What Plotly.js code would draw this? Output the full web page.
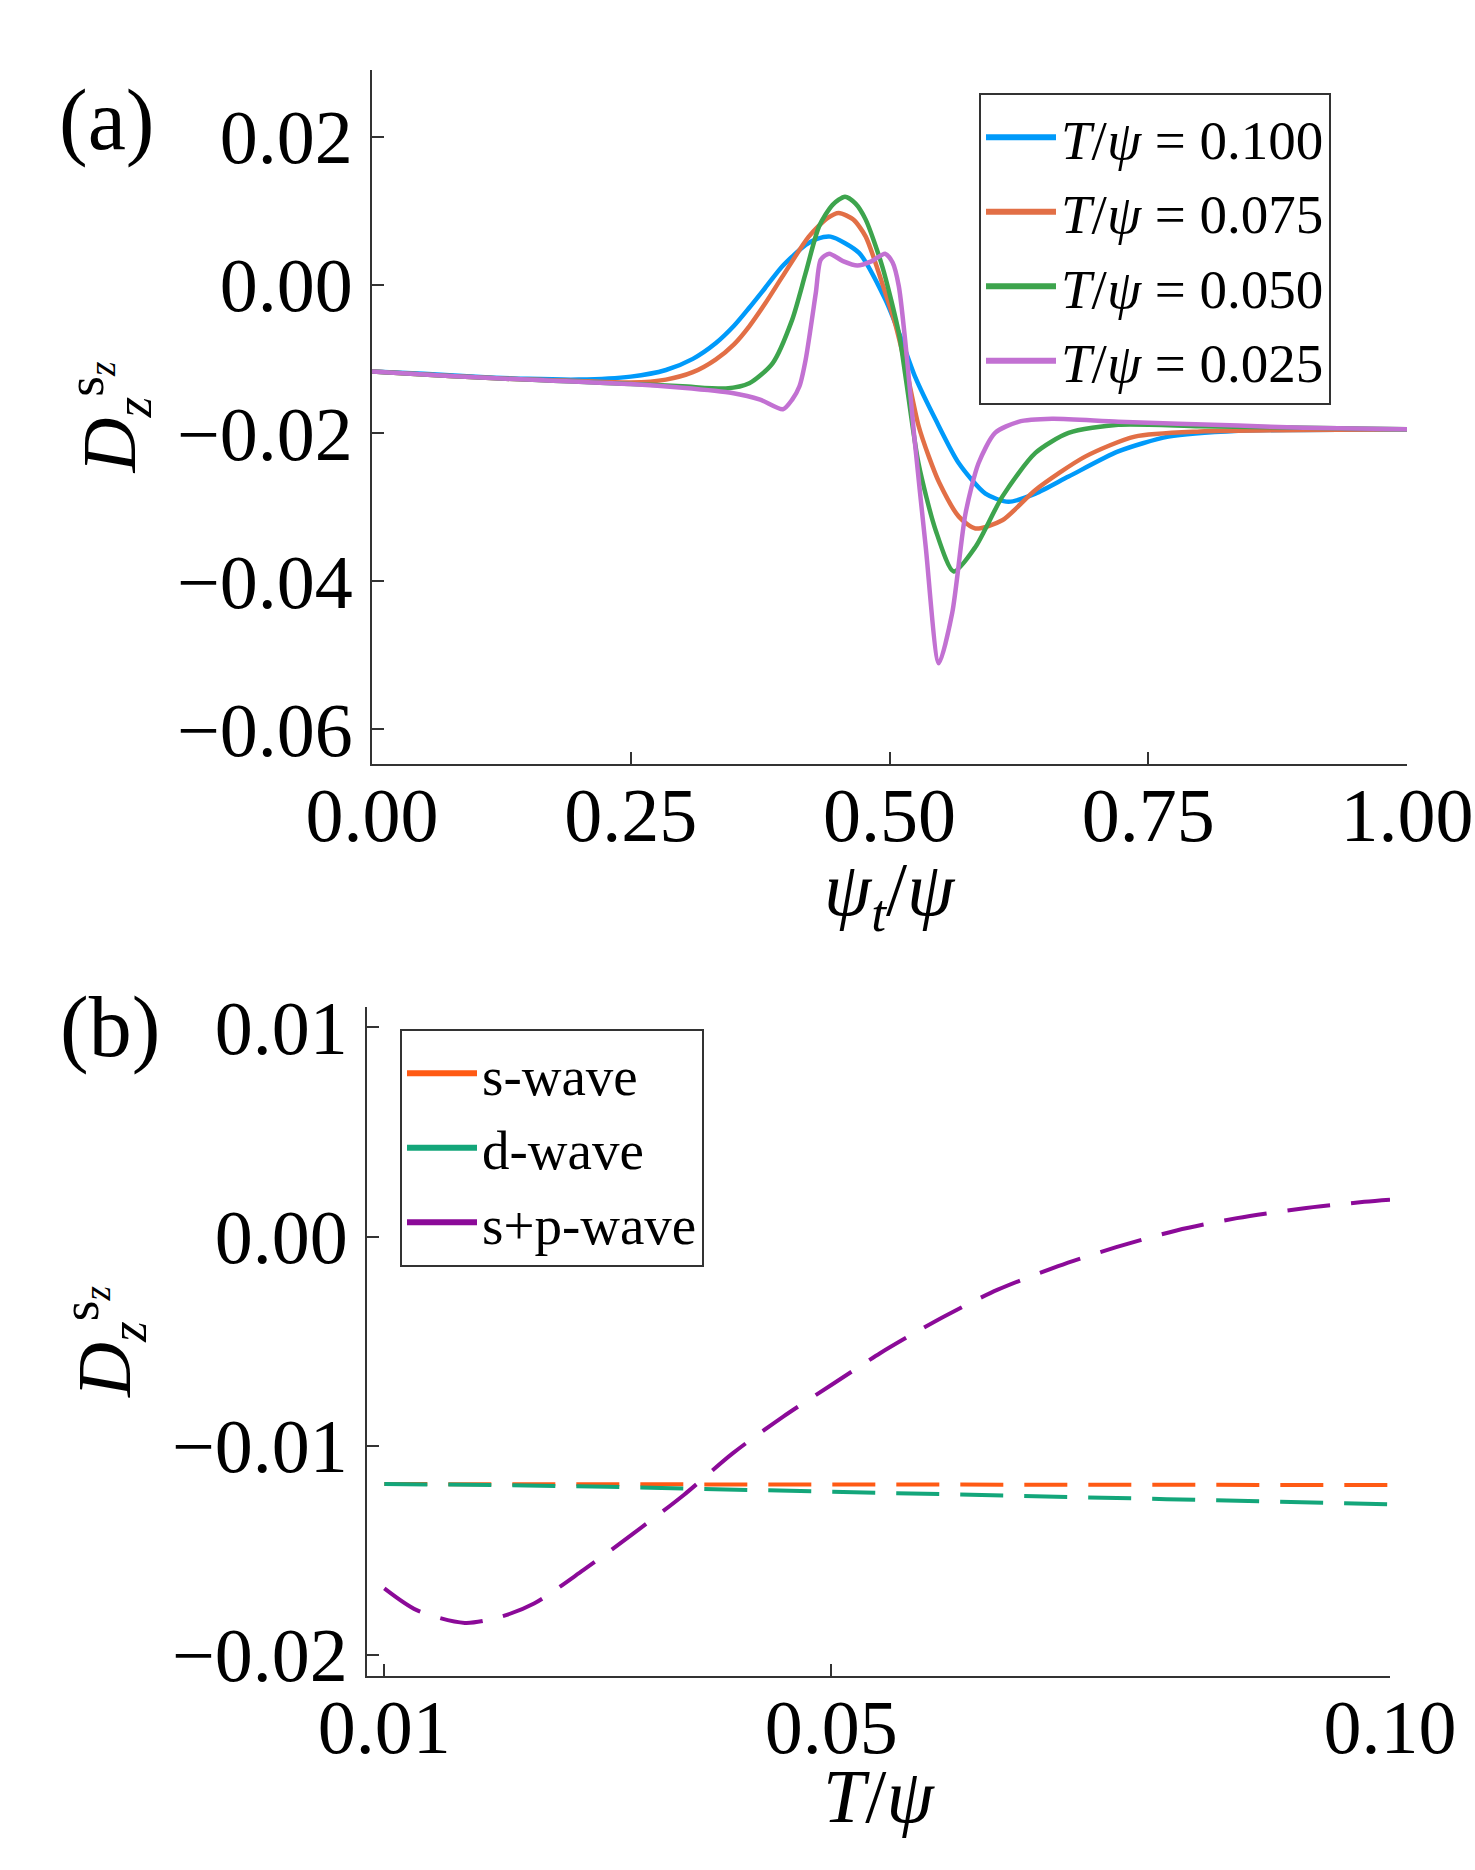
<!DOCTYPE html>
<html>
<head>
<meta charset="utf-8">
<script src="https://cdn.plot.ly/plotly-3.0.1.min.js"></script>
<style>
  body { margin: 0; background: #fff; }
  #chart { width: 1475px; height: 1870px; }
</style>
</head>
<body>
<div id="chart"></div>
<script>
'use strict';

// panel (a): D_z^{s_z} against psi_t/psi for four temperatures
const tLabels = ['0.100', '0.075', '0.050', '0.025'];

const xT100 = [0, 0.05, 0.10, 0.15, 0.20, 0.25, 0.284, 0.31, 0.332, 0.35, 0.3645, 0.38, 0.3965, 0.419, 0.43, 0.443, 0.4706, 0.496, 0.51, 0.525, 0.5445, 0.567, 0.5927, 0.615, 0.641, 0.673, 0.721, 0.7695, 0.837, 0.9, 1.0];
const yT100 = [-0.0117, -0.0120, -0.0124, -0.0127, -0.0128, -0.0124, -0.0115, -0.0100, -0.0079, -0.0055, -0.0031, -0.0004, 0.0025, 0.0054, 0.0062, 0.0065, 0.0043, -0.0020, -0.0068, -0.0125, -0.0182, -0.0241, -0.0282, -0.0293, -0.0282, -0.0259, -0.0225, -0.0205, -0.0197, -0.0196, -0.0195];

const xT075 = [0, 0.05, 0.10, 0.15, 0.20, 0.25, 0.284, 0.31, 0.332, 0.35, 0.3645, 0.38, 0.3965, 0.422, 0.44, 0.451, 0.465, 0.477, 0.496, 0.505, 0.5156, 0.528, 0.538, 0.548, 0.567, 0.583, 0.609, 0.641, 0.689, 0.737, 0.8, 0.9, 1.0];
const yT075 = [-0.0117, -0.0121, -0.0125, -0.0128, -0.0130, -0.0132, -0.0128, -0.0118, -0.0101, -0.0080, -0.0056, -0.0025, 0.0011, 0.0065, 0.0090, 0.0097, 0.0088, 0.0065, -0.0011, -0.0050, -0.0110, -0.0190, -0.0232, -0.0267, -0.0313, -0.0329, -0.0318, -0.0277, -0.0232, -0.0205, -0.0198, -0.0196, -0.0195];

const xT050 = [0, 0.05, 0.10, 0.15, 0.20, 0.25, 0.30, 0.342, 0.3645, 0.387, 0.406, 0.419, 0.432, 0.445, 0.457, 0.467, 0.477, 0.493, 0.509, 0.5156, 0.528, 0.5445, 0.562, 0.583, 0.609, 0.641, 0.673, 0.721, 0.8, 0.9, 1.0];
const yT050 = [-0.0117, -0.0121, -0.0125, -0.0128, -0.0131, -0.0134, -0.0137, -0.0140, -0.0133, -0.0106, -0.0047, 0.0016, 0.0079, 0.0108, 0.0119, 0.0110, 0.0088, 0.0025, -0.0065, -0.0125, -0.0241, -0.0331, -0.0387, -0.0354, -0.0286, -0.0227, -0.0200, -0.0189, -0.0191, -0.0193, -0.0195];

const xT025 = [0, 0.05, 0.10, 0.15, 0.20, 0.25, 0.30, 0.348, 0.375, 0.397, 0.406, 0.413, 0.419, 0.4288, 0.4336, 0.4417, 0.455, 0.469, 0.483, 0.4957, 0.503, 0.509, 0.517, 0.5236, 0.535, 0.5477, 0.5606, 0.5734, 0.586, 0.602, 0.6245, 0.657, 0.721, 0.837, 0.9, 1.0];
const yT025 = [-0.0117, -0.0121, -0.0125, -0.0128, -0.0131, -0.0134, -0.0139, -0.0146, -0.0155, -0.0168, -0.0155, -0.0137, -0.0101, -0.0011, 0.0034, 0.0042, 0.0032, 0.0026, 0.0032, 0.0042, 0.0030, -0.0002, -0.0101, -0.0200, -0.0354, -0.0511, -0.0443, -0.0309, -0.0241, -0.0200, -0.0185, -0.0181, -0.0185, -0.0190, -0.0193, -0.0195];

// panel (b): D_z^{s_z} against T/psi for three pairings
const tGrid = [0.01, 0.02, 0.03, 0.04, 0.05, 0.06, 0.07, 0.08, 0.09, 0.10];
const sWave = [-0.01184, -0.01185, -0.01186, -0.01186, -0.01187, -0.01187, -0.01188, -0.01188, -0.01188, -0.01188];
const dWave = [-0.01184, -0.01188, -0.01197, -0.01208, -0.01219, -0.01230, -0.01243, -0.01256, -0.01268, -0.01281];

const tSp = [0.010, 0.0129, 0.0172, 0.0204, 0.0234, 0.0278, 0.0323, 0.0368, 0.0412, 0.0457, 0.050, 0.0544, 0.0569, 0.0601, 0.0649, 0.0703, 0.0755, 0.0809, 0.0863, 0.0920, 0.0977, 0.100];
const spWave = [-0.01683, -0.01787, -0.01848, -0.01819, -0.01755, -0.01596, -0.01420, -0.01236, -0.01036, -0.00861, -0.0071, -0.00557, -0.00478, -0.00382, -0.00254, -0.00142, -0.00051, 0.00029, 0.00088, 0.00133, 0.00166, 0.00176];

const waveNames = ['s-wave', 'd-wave', 's+p-wave'];

// ticks
const xTicksA = [0, 0.25, 0.5, 0.75, 1.0];
const xTickTextA = ['0.00', '0.25', '0.50', '0.75', '1.00'];
const yTicksA = [0.02, 0, -0.02, -0.04, -0.06];
const yTickTextA = ['0.02', '0.00', '\u22120.02', '\u22120.04', '\u22120.06'];
const xTicksB = [0.01, 0.05, 0.10];
const xTickTextB = ['0.01', '0.05', '0.10'];
const yTicksB = [0.01, 0, -0.01, -0.02];
const yTickTextB = ['0.01', '0.00', '\u22120.01', '\u22120.02'];

const serif = 'Liberation Serif, Times New Roman, serif';
const colorsA = ['#009AFA', '#E26F46', '#3DA44D', '#C271D2'];
const colorsB = ['#FF5A14', '#13A67A', '#8B0A98'];

const seriesA = [[xT100, yT100], [xT075, yT075], [xT050, yT050], [xT025, yT025]];
const seriesB = [[tGrid, sWave, 'linear'], [tGrid, dWave, 'linear'], [tSp, spWave, 'spline']];

const data = [];
seriesA.forEach(function(s, i) {
	data.push({
		x: s[0], y: s[1],
		type: 'scatter', mode: 'lines', showlegend: false,
		line: {color: colorsA[i], width: 4.5, shape: 'spline', smoothing: 0.7},
		xaxis: 'x', yaxis: 'y'
	});
});
seriesB.forEach(function(s, i) {
	data.push({
		x: s[0], y: s[1],
		type: 'scatter', mode: 'lines', showlegend: false,
		line: {color: colorsB[i], width: 4, dash: '43px,21px', shape: s[2], smoothing: 0.8},
		xaxis: 'x2', yaxis: 'y2'
	});
});

// legend entries: empty traces so the key shows a thick solid stroke
colorsA.forEach(function(c, i) {
	data.push({
		x: [null], y: [null], type: 'scatter', mode: 'lines',
		name: '<i>T</i>/<i>\u03C8</i> = ' + tLabels[i],
		line: {color: c, width: 6},
		xaxis: 'x', yaxis: 'y', legend: 'legend'
	});
});
colorsB.forEach(function(c, i) {
	data.push({
		x: [null], y: [null], type: 'scatter', mode: 'lines',
		name: waveNames[i],
		line: {color: c, width: 6},
		xaxis: 'x2', yaxis: 'y2', legend: 'legend2'
	});
});

function axisStyle(extra) {
	const base = {
		showline: true, linecolor: '#333', linewidth: 2,
		ticks: 'inside', ticklen: 12, tickwidth: 2, tickcolor: '#333',
		showgrid: false, zeroline: false,
		tickfont: {family: serif, size: 76, color: '#000'},
		tickmode: 'array', automargin: false
	};
	return Object.assign(base, extra);
}

const titleFont = {family: serif, size: 76, color: '#000'};
const yTitle = '<i>D</i><sub><i>z</i></sub><sup>s<sub><i>z</i></sub></sup>';

const legendStyle = {
	bgcolor: '#fff', bordercolor: '#333', borderwidth: 2,
	font: {family: serif, size: 55, color: '#000'},
	xanchor: 'left', yanchor: 'top', itemwidth: 70
};

const layout = {
	width: 1475, height: 1870,
	margin: {l: 0, r: 0, t: 0, b: 0},
	paper_bgcolor: '#fff', plot_bgcolor: '#fff',
	showlegend: true,
	xaxis: axisStyle({
		domain: [372 / 1475, 1407 / 1475], range: [0, 1], anchor: 'y',
		tickvals: xTicksA, ticktext: xTickTextA, ticklabelstandoff: -16
	}),
	yaxis: axisStyle({
		domain: [1 - 764 / 1870, 1 - 70 / 1870], range: [-0.0647, 0.029], anchor: 'x',
		tickvals: yTicksA, ticktext: yTickTextA, ticklabelstandoff: 2,
		title: {text: yTitle, font: titleFont, standoff: 16}
	}),
	xaxis2: axisStyle({
		domain: [367 / 1475, 1390 / 1475], range: [0.00845, 0.10], anchor: 'y2',
		tickvals: xTicksB, ticktext: xTickTextB, ticklabelstandoff: -16
	}),
	yaxis2: axisStyle({
		domain: [1 - 1676 / 1870, 1 - 1007 / 1870], range: [-0.02102, 0.01098], anchor: 'x2',
		tickvals: yTicksB, ticktext: yTickTextB, ticklabelstandoff: 2,
		title: {text: yTitle, font: titleFont, standoff: 16}
	}),
	legend: Object.assign({x: 979 / 1475, y: 1 - 93 / 1870}, legendStyle),
	legend2: Object.assign({x: 400 / 1475, y: 1 - 1029 / 1870}, legendStyle),
	annotations: [
		{text: '(a)', xref: 'paper', yref: 'paper', x: 106 / 1475, y: 1 - 120 / 1870,
			xanchor: 'center', yanchor: 'middle',
			showarrow: false, font: {family: serif, size: 86, color: '#000'}},
		{text: '(b)', xref: 'paper', yref: 'paper', x: 110 / 1475, y: 1 - 1027 / 1870,
			xanchor: 'center', yanchor: 'middle',
			showarrow: false, font: {family: serif, size: 86, color: '#000'}},
		// x axis titles, placed against their own axis domains
		{text: '<i>\u03C8</i><sub><i>t</i></sub>/<i>\u03C8</i>', xref: 'x domain', yref: 'y domain',
			x: 0.5, y: -0.189, xanchor: 'center', yanchor: 'middle',
			showarrow: false, font: titleFont},
		{text: '<i>T</i>/<i>\u03C8</i>', xref: 'x2 domain', yref: 'y2 domain',
			x: 0.5, y: -0.179, xanchor: 'center', yanchor: 'middle',
			showarrow: false, font: titleFont}
	]
};

Plotly.newPlot('chart', data, layout, {staticPlot: true});
</script>
</body>
</html>
